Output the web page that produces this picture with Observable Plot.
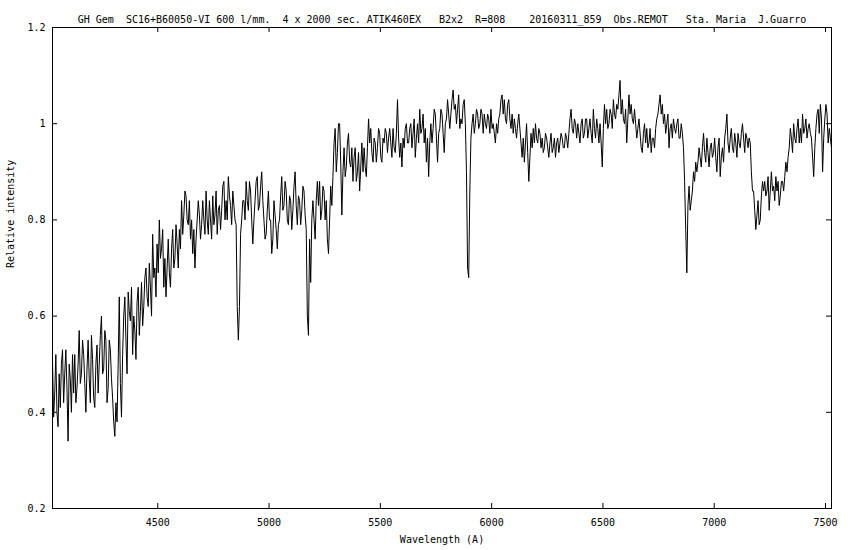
<!DOCTYPE html>
<html><head><meta charset="utf-8">
<script src="https://cdn.jsdelivr.net/npm/d3@7"></script>
<script src="https://cdn.jsdelivr.net/npm/@observablehq/plot@0.6"></script>
<style>
html,body{margin:0;padding:0;background:#fff;}
svg text{white-space:pre;}
</style></head><body><div id="chart"></div>
<script>
const titleText = "GH Gem  SC16+B60050-VI 600 l/mm.  4 x 2000 sec. ATIK460EX   B2x2  R=808    20160311_859  Obs.REMOT   Sta. Maria  J.Guarro";
const xLabel = "Wavelength (A)";
const yLabel = "Relative intensity";
const xTicks = [4500, 5000, 5500, 6000, 6500, 7000, 7500];
const yTicks = [0.2, 0.4, 0.6, 0.8, 1, 1.2];
// linear dispersion grid of the spectrum (start wavelength, step in Angstrom)
const wavelengthStart = 4027;
const wavelengthStep = 5;
// relative intensity, one row per 100 A
const intensity = [
  0.51, 0.39, 0.44, 0.52, 0.40, 0.37, 0.48, 0.41, 0.50, 0.53, 0.42, 0.48, 0.53, 0.45, 0.34, 0.50, 0.47, 0.40, 0.52, 0.44,
  0.52, 0.42, 0.45, 0.50, 0.57, 0.46, 0.48, 0.55, 0.52, 0.46, 0.40, 0.49, 0.55, 0.47, 0.42, 0.56, 0.51, 0.43, 0.41, 0.50,
  0.54, 0.44, 0.50, 0.56, 0.60, 0.48, 0.49, 0.57, 0.55, 0.42, 0.45, 0.55, 0.53, 0.47, 0.43, 0.38, 0.35, 0.42, 0.38, 0.50,
  0.64, 0.46, 0.39, 0.52, 0.60, 0.64, 0.55, 0.48, 0.65, 0.61, 0.59, 0.66, 0.52, 0.60, 0.57, 0.51, 0.63, 0.66, 0.56, 0.61,
  0.67, 0.58, 0.62, 0.68, 0.70, 0.64, 0.62, 0.71, 0.66, 0.60, 0.77, 0.68, 0.70, 0.64, 0.75, 0.69, 0.80, 0.72, 0.74, 0.78,
  0.66, 0.72, 0.64, 0.70, 0.76, 0.69, 0.66, 0.74, 0.78, 0.70, 0.72, 0.79, 0.75, 0.70, 0.78, 0.74, 0.84, 0.77, 0.81, 0.86,
  0.85, 0.80, 0.79, 0.84, 0.76, 0.80, 0.73, 0.78, 0.70, 0.76, 0.80, 0.84, 0.81, 0.76, 0.79, 0.84, 0.80, 0.77, 0.86, 0.80,
  0.77, 0.84, 0.80, 0.76, 0.85, 0.79, 0.81, 0.86, 0.77, 0.82, 0.83, 0.78, 0.82, 0.87, 0.88, 0.80, 0.84, 0.80, 0.89, 0.85,
  0.83, 0.79, 0.86, 0.83, 0.80, 0.79, 0.62, 0.55, 0.62, 0.77, 0.80, 0.84, 0.84, 0.80, 0.88, 0.84, 0.82, 0.88, 0.86, 0.80,
  0.75, 0.80, 0.84, 0.88, 0.89, 0.82, 0.83, 0.87, 0.90, 0.84, 0.80, 0.76, 0.77, 0.82, 0.86, 0.80, 0.80, 0.73, 0.76, 0.84,
  0.81, 0.78, 0.74, 0.79, 0.80, 0.85, 0.89, 0.82, 0.83, 0.88, 0.86, 0.80, 0.79, 0.85, 0.84, 0.78, 0.82, 0.87, 0.90, 0.83,
  0.79, 0.85, 0.84, 0.79, 0.82, 0.87, 0.86, 0.81, 0.78, 0.60, 0.56, 0.76, 0.67, 0.80, 0.84, 0.80, 0.76, 0.84, 0.88, 0.83,
  0.88, 0.80, 0.82, 0.87, 0.86, 0.80, 0.84, 0.76, 0.73, 0.80, 0.87, 0.83, 0.89, 0.96, 0.99, 0.90, 0.94, 1.00, 1.00, 0.92,
  0.81, 0.90, 0.95, 0.89, 0.91, 0.96, 0.98, 0.92, 0.91, 0.95, 0.88, 0.93, 0.95, 0.88, 0.90, 0.94, 0.86, 0.91, 0.96, 0.90,
  0.95, 0.91, 0.89, 0.95, 1.01, 0.96, 0.99, 0.94, 0.92, 0.97, 0.96, 0.92, 0.95, 0.99, 0.98, 0.93, 0.92, 0.97, 0.96, 0.99,
  0.98, 0.94, 0.97, 0.99, 0.96, 0.93, 0.99, 0.95, 0.94, 0.98, 1.05, 0.97, 0.93, 0.96, 0.91, 0.97, 0.95, 0.99, 1.00, 0.96,
  0.96, 0.99, 1.00, 0.95, 0.98, 1.01, 0.93, 0.97, 1.00, 0.96, 1.03, 0.98, 0.99, 1.02, 0.96, 0.99, 0.92, 0.97, 0.89, 0.96,
  1.00, 0.96, 0.99, 1.03, 1.02, 0.97, 0.92, 0.98, 0.99, 1.03, 1.02, 0.98, 0.94, 1.00, 1.01, 1.05, 1.02, 0.99, 1.02, 1.05,
  1.07, 1.03, 1.04, 1.00, 1.03, 1.06, 0.99, 1.01, 1.00, 1.04, 1.05, 1.00, 0.90, 0.70, 0.68, 0.86, 0.97, 1.00, 1.02, 0.98,
  1.00, 1.03, 1.02, 0.99, 1.00, 1.03, 1.02, 0.98, 1.02, 1.00, 0.99, 1.02, 1.01, 0.98, 1.03, 0.99, 1.00, 0.98, 0.96, 1.00,
  0.98, 1.01, 1.02, 1.05, 1.06, 1.02, 1.05, 1.01, 1.00, 1.04, 1.05, 1.01, 0.99, 1.02, 0.98, 1.01, 0.99, 0.97, 1.00, 1.02,
  0.99, 0.96, 0.93, 0.97, 0.92, 0.96, 1.00, 0.94, 0.88, 0.93, 0.98, 0.95, 0.99, 0.96, 1.00, 0.97, 0.96, 0.99, 0.98, 0.95,
  0.97, 0.94, 0.95, 0.98, 0.97, 0.95, 0.93, 0.96, 0.98, 0.94, 0.95, 0.97, 0.93, 0.96, 0.97, 0.94, 0.96, 0.98, 0.97, 0.95,
  0.95, 0.98, 0.97, 0.95, 0.98, 1.01, 1.03, 0.99, 0.98, 1.01, 1.00, 0.97, 1.00, 0.98, 0.96, 1.00, 1.01, 0.97, 0.98, 1.01,
  1.01, 0.97, 0.99, 1.01, 0.98, 0.96, 1.03, 0.99, 0.97, 1.01, 0.99, 0.96, 1.00, 0.96, 0.91, 0.99, 1.04, 1.00, 1.03, 0.99,
  1.00, 1.03, 1.02, 0.99, 1.05, 1.02, 1.01, 1.04, 1.03, 1.06, 1.09, 1.02, 1.05, 1.01, 1.00, 1.03, 0.96, 1.01, 1.06, 1.02,
  1.04, 1.01, 1.00, 1.03, 1.00, 0.97, 0.99, 1.01, 0.98, 0.95, 0.94, 0.98, 1.00, 0.96, 0.99, 0.95, 0.96, 0.99, 0.94, 0.97,
  0.97, 0.95, 0.99, 1.01, 1.02, 1.04, 1.06, 1.02, 1.04, 1.00, 1.02, 0.98, 1.00, 1.02, 0.95, 0.99, 1.00, 0.97, 1.01, 0.99,
  0.98, 1.00, 1.01, 0.97, 0.97, 1.00, 0.98, 0.95, 0.88, 0.78, 0.69, 0.83, 0.87, 0.82, 0.84, 0.86, 0.90, 0.88, 0.92, 0.90,
  0.92, 0.95, 0.93, 0.91, 0.95, 0.98, 0.94, 0.92, 0.97, 0.94, 0.91, 0.95, 0.96, 0.93, 0.94, 0.97, 0.93, 0.90, 0.95, 0.97,
  0.89, 0.93, 0.95, 0.92, 0.97, 0.99, 1.02, 0.96, 0.94, 0.97, 0.99, 0.95, 0.94, 0.98, 0.96, 0.93, 0.98, 0.96, 0.95, 0.98,
  1.00, 0.97, 0.94, 0.98, 0.97, 0.95, 0.97, 0.96, 0.90, 0.86, 0.86, 0.82, 0.78, 0.81, 0.84, 0.79, 0.80, 0.85, 0.88, 0.86,
  0.88, 0.85, 0.86, 0.89, 0.82, 0.86, 0.90, 0.86, 0.87, 0.84, 0.89, 0.86, 0.88, 0.83, 0.85, 0.88, 0.88, 0.86, 0.89, 0.92,
  0.90, 0.93, 0.95, 0.99, 0.97, 0.94, 1.00, 0.97, 0.96, 0.99, 1.01, 0.96, 0.99, 0.96, 1.02, 0.98, 0.99, 1.01, 0.97, 0.99,
  1.00, 0.98, 0.97, 0.93, 0.89, 0.95, 0.99, 1.02, 1.03, 0.98, 1.04, 1.01, 0.90, 0.97, 1.01, 1.04, 1.02, 0.96, 0.99, 0.97, 0.95
];
const spectrum = intensity.map((v, i) => ({wavelength: wavelengthStart + i * wavelengthStep, intensity: v}));

const W = 850, H = 550, mL = 52, mT = 27, mR = 19, mB = 42;
const innerW = W - mL - mR, innerH = H - mT - mB;
const tick = 5;

const chart = Plot.plot({
  width: W, height: H,
  marginLeft: mL, marginTop: mT, marginRight: mR, marginBottom: mB,
  style: {fontFamily: "'DejaVu Sans Mono', monospace", fontSize: "10px", background: "#fff", color: "#000", overflow: "visible"},
  x: {domain: [4027, 7527], ticks: xTicks, tickSize: 0, tickPadding: 10, label: null, tickFormat: d => String(d)},
  y: {domain: [0.2, 1.2], ticks: yTicks, tickSize: 0, tickPadding: 7, label: null, tickFormat: d => String(d)},
  marks: [
    Plot.frame({stroke: "#000"}),
    Plot.ruleX(xTicks, {insetTop: innerH - tick, stroke: "#000"}),
    Plot.ruleX(xTicks, {insetBottom: innerH - tick, stroke: "#000"}),
    Plot.ruleY(yTicks, {insetRight: innerW - tick, stroke: "#000"}),
    Plot.ruleY(yTicks, {insetLeft: innerW - tick, stroke: "#000"}),
    Plot.line(spectrum, {x: "wavelength", y: "intensity", stroke: "#000", strokeWidth: 1}),
    Plot.text([titleText], {frameAnchor: "top", dy: -12, text: d => d, fill: "#000"}),
    Plot.text([xLabel], {frameAnchor: "bottom", dy: 34, text: d => d, fill: "#000"}),
    Plot.text([yLabel], {frameAnchor: "left", dx: -42, rotate: -90, text: d => d, fill: "#000"})
  ]
});
document.getElementById("chart").appendChild(chart);
</script>
</body></html>
